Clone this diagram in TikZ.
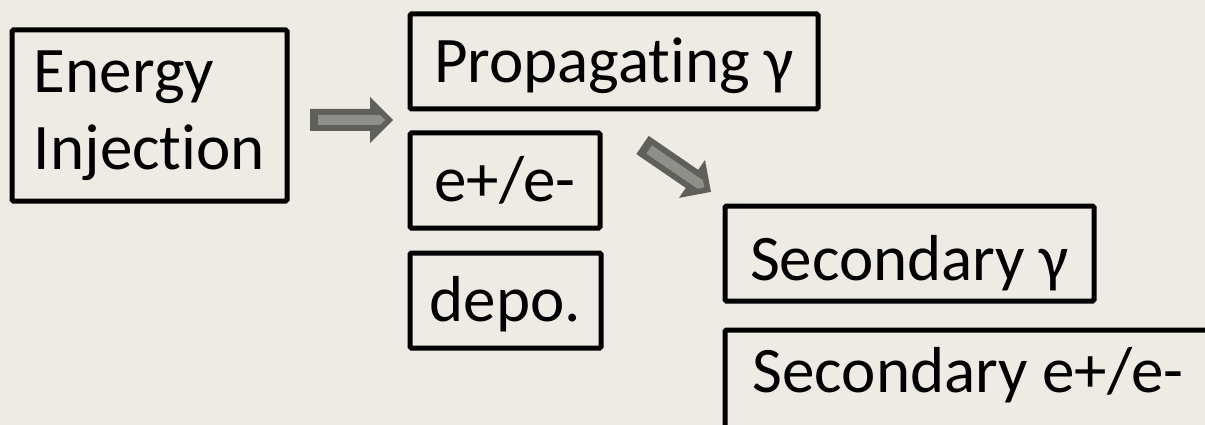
\documentclass[tikz,border=0pt]{standalone}
\usepackage{fontspec}
\setmainfont{Carlito}[Ligatures=CommonOff]
\usepackage{xcolor}
\usetikzlibrary{calc}

\definecolor{slidebg}{HTML}{EEEBE4}
\definecolor{arrowdark}{HTML}{5F605B}
\definecolor{arrowlight}{HTML}{8E8F89}

\tikzset{
  box/.style={draw=black, line width=5pt, rounded corners=1.5pt, inner sep=0pt,
    font=\fontsize{65}{77}\selectfont},
  onerow/.style={text height=42pt, text depth=0pt},
  blockarrow/.pic={
    \fill[arrowdark] (0,-11) -- (60,-11) -- (60,-23) -- (83,0) -- (60,23) -- (60,11) -- (0,11) -- cycle;
    \fill[arrowlight] (8,-5) -- (70,-5) -- (75,0) -- (70,5) -- (8,5) -- cycle;
  }
}

\begin{document}
\begin{tikzpicture}[x=1pt, y=-1pt]
  \fill[slidebg] (0,0) rectangle (1205,425);
  \useasboundingbox (0,0) rectangle (1205,425);
  \clip (0,0) rectangle (1205,425);

  % boxes
  \node[box, minimum width=275pt, minimum height=171pt, align=left] (inj) at (149.5,115.5) {Energy\\Injection};
  \node[box, onerow, minimum width=408pt, minimum height=95pt] (prop) at (614,61.5) {Propagating γ};
  \node[box, onerow, minimum width=190pt, minimum height=95pt] (epm) at (505,180.5) {e+/e-};
  \node[box, onerow, minimum width=191pt, minimum height=95pt] (depo) at (505.5,300.5) {depo.};
  \node[box, onerow, text height=54pt, minimum width=369pt, minimum height=95pt] (secg) at (909.5,253.5) {Secondary γ};
  \node[box, onerow, text depth=18pt, minimum width=486pt, minimum height=100pt] (sece) at (968,380) {Secondary e+/e-};

  % arrows
  \pic at (310,120) {blockarrow};
  \pic[rotate=-34.4] at (642.5,145) {blockarrow};
\end{tikzpicture}
\end{document}
